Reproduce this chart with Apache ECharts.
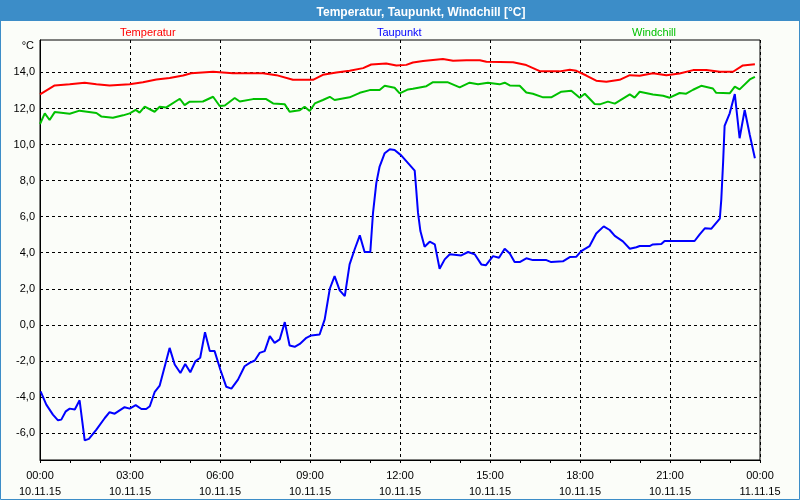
<!DOCTYPE html>
<html>
<head>
<meta charset="utf-8">
<script src="https://cdn.jsdelivr.net/npm/echarts@6/dist/echarts.min.js"></script>
<style>
  html, body { margin: 0; padding: 0; background: #fbfdf9; }
  #chart { width: 800px; height: 500px; }
</style>
</head>
<body>
<div id="chart"></div>
<script>
// x ticks (hours 0..24, every 3h)
const hourLabels = ['00:00', '03:00', '06:00', '09:00', '12:00', '15:00', '18:00', '21:00', '00:00']
const dateLabels = ['10.11.15', '10.11.15', '10.11.15', '10.11.15', '10.11.15', '10.11.15', '10.11.15', '10.11.15', '11.11.15']
const yTicks = [-6, -4, -2, 0, 2, 4, 6, 8, 10, 12, 14]

// Temperatur
const tempHours = [0, 0.49, 0.99, 1.49, 1.88, 2.32, 2.99, 3.43, 3.88, 4.32, 4.77, 5.04, 5.77, 6.43, 7.43, 7.88, 8.43, 9.1, 9.43, 9.88, 10.32, 10.77, 11.04, 11.54, 11.88, 12.21,
  12.43, 12.77, 13.43, 13.77, 14.21, 14.66, 14.88, 15.77, 16.21, 16.66, 17.32, 17.66, 17.88, 18.21, 18.54, 18.88, 19.32, 19.66, 19.99, 20.43, 20.88, 21.32, 21.77, 22.21, 22.66, 23.1, 23.43, 23.83]
const tempValues = [12.78, 13.28, 13.35, 13.43, 13.35, 13.28, 13.34, 13.46, 13.61, 13.69, 13.83, 13.96, 14.04, 13.96, 13.96, 13.85, 13.59, 13.59, 13.87, 14.0, 14.09, 14.24, 14.44, 14.5, 14.39, 14.42,
  14.55, 14.63, 14.74, 14.65, 14.68, 14.68, 14.59, 14.57, 14.41, 14.07, 14.06, 14.15, 14.09, 13.83, 13.54, 13.48, 13.59, 13.85, 13.82, 13.96, 13.85, 13.94, 14.13, 14.13, 14.04, 14.04, 14.39, 14.46]

// Taupunkt
const dewHours = [0.02, 0.21, 0.43, 0.6, 0.71, 0.86, 0.99, 1.16, 1.32, 1.49, 1.63, 1.88, 2.16, 2.32, 2.49, 2.82, 2.99, 3.19, 3.38, 3.54, 3.66, 3.82, 3.99, 4.32, 4.49, 4.68, 4.84, 5.01, 5.18, 5.34, 5.5, 5.66, 5.82,
  6.01, 6.21, 6.38, 6.6, 6.82, 6.99, 7.16, 7.32, 7.49, 7.66, 7.82, 7.99, 8.16, 8.32, 8.49, 8.66, 8.88, 9.04, 9.32, 9.49, 9.66, 9.82, 9.99, 10.16, 10.32, 10.49, 10.66, 10.82, 11.01,
  11.1, 11.21, 11.32, 11.49, 11.66, 11.82, 12.04, 12.49, 12.54, 12.6, 12.68, 12.82, 12.99, 13.16, 13.32, 13.49, 13.66, 14.04, 14.27, 14.49, 14.71, 14.86, 15.1, 15.3, 15.49, 15.66, 15.82, 15.99,
  16.21, 16.43, 16.88, 17.04, 17.43, 17.66, 17.88, 18.04, 18.32, 18.54, 18.79, 18.99, 19.16, 19.43, 19.66, 19.88, 19.99, 20.32, 20.43, 20.71, 20.82, 21.82, 21.99, 22.16, 22.38, 22.66, 22.71, 22.77,
  22.82, 22.99, 23.16, 23.32, 23.49, 23.66, 23.83]
const dewValues = [-3.69, -4.43, -4.98, -5.3, -5.26, -4.8, -4.65, -4.7, -4.19, -6.41, -6.33, -5.81, -5.17, -4.85, -4.93, -4.57, -4.65, -4.46, -4.67, -4.67, -4.52, -3.74, -3.37, -1.28, -2.2, -2.67, -2.17, -2.63, -2.02, -1.83, -0.41, -1.46, -1.46,
  -2.48, -3.44, -3.54, -3.04, -2.3, -2.11, -1.98, -1.56, -1.46, -0.63, -1.0, -0.81, 0.15, -1.15, -1.22, -1.06, -0.72, -0.59, -0.54, 0.3, 2.0, 2.7, 1.91, 1.59, 3.35, 4.19, 4.96, 4.04, 4.04,
  6.2, 7.86, 8.78, 9.52, 9.74, 9.7, 9.4, 8.55, 7.52, 6.22, 5.2, 4.33, 4.61, 4.46, 3.11, 3.63, 3.91, 3.85, 4.04, 3.91, 3.35, 3.3, 3.81, 3.72, 4.22, 3.96, 3.48, 3.48,
  3.69, 3.59, 3.59, 3.48, 3.52, 3.76, 3.78, 4.09, 4.37, 5.07, 5.46, 5.26, 4.93, 4.63, 4.22, 4.3, 4.37, 4.37, 4.46, 4.48, 4.65, 4.65, 5.02, 5.35, 5.33, 5.89, 6.96, 9.0,
  11.03, 11.73, 12.8, 10.35, 11.92, 10.53, 9.24]

// Windchill
const chillHours = [0, 0.16, 0.32, 0.49, 0.99, 1.32, 1.88, 2.04, 2.43, 2.77, 2.99, 3.19, 3.32, 3.49, 3.82, 3.99, 4.21, 4.66, 4.82, 4.99, 5.43, 5.77, 5.99, 6.16, 6.49, 6.66, 7.1, 7.54, 7.77, 8.16, 8.32, 8.66, 8.82, 8.99,
  9.16, 9.43, 9.66, 9.82, 10.32, 10.66, 10.99, 11.32, 11.49, 11.82, 11.99, 12.27, 12.43, 12.88, 13.1, 13.6, 13.99, 14.32, 14.6, 14.93, 15.32, 15.49, 15.66, 15.99, 16.21, 16.43, 16.77, 17.04,
  17.38, 17.71, 17.99, 18.16, 18.49, 18.66, 18.93, 19.16, 19.66, 19.82, 19.99, 20.43, 20.77, 20.99, 21.32, 21.54, 21.77, 22.04, 22.43, 22.54, 22.99, 23.16, 23.32, 23.66, 23.83]
const chillValues = [11.14, 11.73, 11.36, 11.8, 11.71, 11.88, 11.75, 11.56, 11.49, 11.62, 11.73, 11.92, 11.77, 12.1, 11.82, 12.1, 12.06, 12.54, 12.19, 12.38, 12.39, 12.65, 12.14, 12.17, 12.58, 12.39, 12.52, 12.52, 12.28, 12.23, 11.82, 11.9, 12.1, 11.86,
  12.28, 12.47, 12.65, 12.47, 12.62, 12.87, 13.02, 13.02, 13.26, 13.15, 12.84, 13.06, 13.1, 13.24, 13.46, 13.45, 13.17, 13.43, 13.34, 13.43, 13.34, 13.43, 13.28, 13.26, 12.89, 12.82, 12.62, 12.62,
  12.93, 12.99, 12.6, 12.82, 12.25, 12.23, 12.38, 12.27, 12.78, 12.6, 12.93, 12.78, 12.71, 12.6, 12.86, 12.82, 13.04, 13.26, 13.11, 12.87, 12.84, 13.21, 13.06, 13.61, 13.76]

const font = 'Liberation Sans, Arial, sans-serif'
const pair = (xs, ys) => xs.map((x, i) => [x, ys[i]])

const chart = echarts.init(document.getElementById('chart'))

function legendFor(name, color, left) {
  return {
    left: left,
    top: 21,
    icon: 'none',
    itemWidth: 0,
    itemGap: 0,
    selectedMode: false,
    textStyle: { color: color, fontFamily: font, fontSize: 11 },
    data: [name]
  }
}

chart.setOption({
  animation: false,
  backgroundColor: '#fbfdf9',
  title: {
    text: 'Temperatur, Taupunkt, Windchill [°C]',
    left: 416,
    textAlign: 'center',
    top: 2,
    textStyle: { color: '#fff', fontFamily: font, fontSize: 12, fontWeight: 'bold' }
  },
  graphic: [
    { type: 'rect', z: -1, shape: { x: 0, y: 0, width: 800, height: 21 }, style: { fill: '#3c8dc8' } },
    { type: 'rect', z: -1, shape: { x: 0.5, y: 0.5, width: 799, height: 499 }, style: { fill: null, stroke: '#3c8dc8', lineWidth: 1 } }
  ],
  legend: [
    legendFor('Temperatur', '#ff0000', 110),
    legendFor('Taupunkt', '#0000ff', 367),
    legendFor('Windchill', '#00c000', 622)
  ],
  grid: {
    left: 40, right: 40, top: 40, bottom: 40,
    show: true, borderColor: '#000', borderWidth: 1, backgroundColor: 'transparent'
  },
  xAxis: {
    type: 'value',
    min: 0, max: 24, interval: 3,
    axisLine: { onZero: false, lineStyle: { color: '#000', width: 1 } },
    axisTick: { show: true, length: 3, lineStyle: { color: '#000' } },
    minorTick: { show: true, splitNumber: 3, length: 3, lineStyle: { color: '#000' } },
    axisLabel: {
      color: '#000', fontFamily: font, fontSize: 11, lineHeight: 16, margin: 8,
      formatter: v => hourLabels[v / 3] + '\n' + dateLabels[v / 3]
    },
    splitLine: { show: true, lineStyle: { color: '#000', type: [3, 3], width: 1 } }
  },
  yAxis: {
    type: 'value',
    min: -7.5, max: 15.8,
    name: '°C',
    nameLocation: 'end',
    nameGap: -6,
    nameTextStyle: { color: '#000', fontFamily: font, fontSize: 11, align: 'right', verticalAlign: 'middle', padding: [0, 6, 0, 0] },
    axisLine: { show: true, onZero: false, lineStyle: { color: '#000' } },
    axisTick: { show: false, customValues: yTicks },
    axisLabel: {
      color: '#000', fontFamily: font, fontSize: 11, margin: 5,
      customValues: yTicks,
      formatter: v => v.toFixed(1).replace('.', ',')
    },
    splitLine: { show: true, lineStyle: { color: '#000', type: [3, 3], width: 1 } }
  },
  series: [
    { name: 'Temperatur', type: 'line', data: pair(tempHours, tempValues), showSymbol: false, lineStyle: { color: '#ff0000', width: 2 }, itemStyle: { color: '#ff0000' }, z: 3 },
    { name: 'Taupunkt', type: 'line', data: pair(dewHours, dewValues), showSymbol: false, lineStyle: { color: '#0000ff', width: 2 }, itemStyle: { color: '#0000ff' }, z: 3 },
    { name: 'Windchill', type: 'line', data: pair(chillHours, chillValues), showSymbol: false, lineStyle: { color: '#00c000', width: 2 }, itemStyle: { color: '#00c000' }, z: 3 }
  ]
})
</script>
</body>
</html>
